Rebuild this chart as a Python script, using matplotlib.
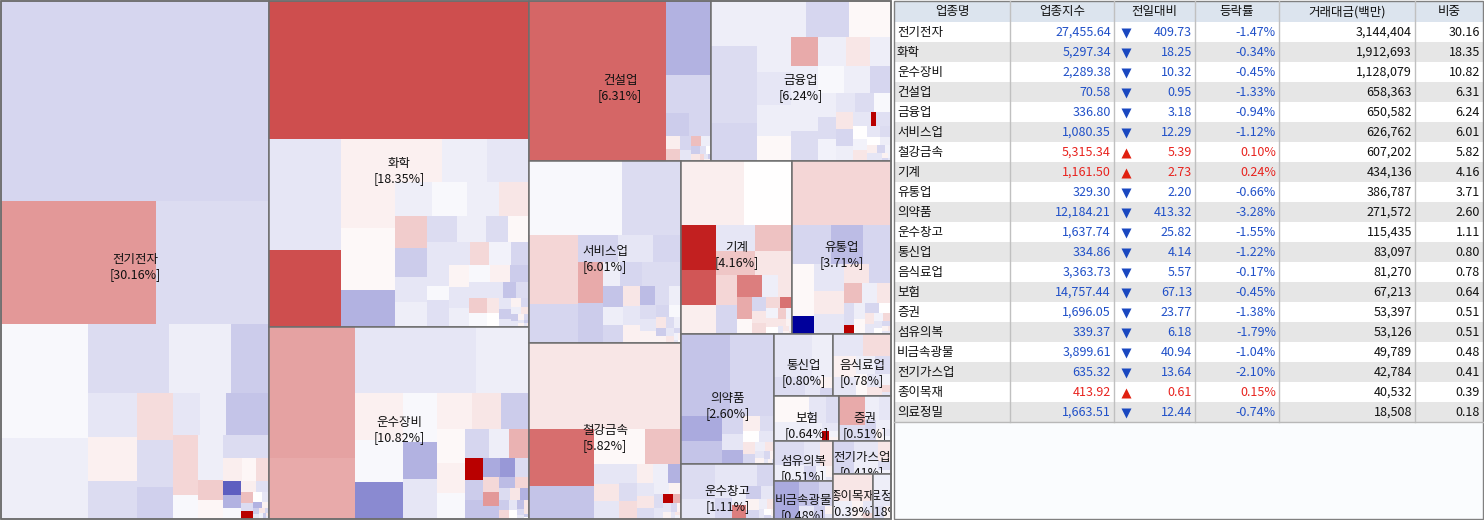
import matplotlib
matplotlib.use('Agg')
import matplotlib.pyplot as plt
from matplotlib.patches import Rectangle
from matplotlib.colors import LinearSegmentedColormap, Normalize
from matplotlib.transforms import Bbox

plt.rcParams['font.family'] = ['Noto Sans CJK KR', 'DejaVu Sans']

# ---------------- sector table data ----------------
names = ['전기전자', '화학', '운수장비', '건설업', '금융업', '서비스업', '철강금속', '기계', '유통업', '의약품',
         '운수창고', '통신업', '음식료업', '보험', '증권', '섬유의복', '비금속광물', '전기가스업', '종이목재', '의료정밀']
index_vals = [27455.64, 5297.34, 2289.38, 70.58, 336.80, 1080.35, 5315.34, 1161.50, 329.30, 12184.21,
              1637.74, 334.86, 3363.73, 14757.44, 1696.05, 339.37, 3899.61, 635.32, 413.92, 1663.51]
day_change = [-409.73, -18.25, -10.32, -0.95, -3.18, -12.29, 5.39, 2.73, -2.20, -413.32,
              -25.82, -4.14, -5.57, -67.13, -23.77, -6.18, -40.94, -13.64, 0.61, -12.44]
rate = [-1.47, -0.34, -0.45, -1.33, -0.94, -1.12, 0.10, 0.24, -0.66, -3.28,
        -1.55, -1.22, -0.17, -0.45, -1.38, -1.79, -1.04, -2.10, 0.15, -0.74]
volume = [3144404, 1912693, 1128079, 658363, 650582, 626762, 607202, 434136, 386787, 271572,
          115435, 83097, 81270, 67213, 53397, 53126, 49789, 42784, 40532, 18508]
weight = [30.16, 18.35, 10.82, 6.31, 6.24, 6.01, 5.82, 4.16, 3.71, 2.60,
          1.11, 0.80, 0.78, 0.64, 0.51, 0.51, 0.48, 0.41, 0.39, 0.18]
headers = ['업종명', '업종지수', '전일대비', '등락률', '거래대금(백만)', '비중']

# ---------------- stock cells per sector (relative size, change %) ----------------
elec_size = [52400, 18573, 13653, 9775, 6885, 5508, 4158, 2640, 2100, 2080, 1833, 1638, 1638, 1120, 1090, 1060,
             1794, 858, 621, 600, 560, 540, 520, 500, 480, 450, 420, 300, 300, 260, 220, 200, 180, 150, 120, 100,
             90, 80, 70, 60, 50, 40, 30, 30, 20, 20, 15, 10, 10]
elec_chg = [-1.6, 4.0, -1.4, -0.3, -0.7, -1.4, -0.7, -2.0, -1.0, 0.6, -1.4, 1.4, -1.4, -1.8, -1.0, -0.7,
            -2.3, 1.6, 1.6, -0.3, -0.7, -1.4, -1.4, -0.7, 2.0, 0.35, 0.7, 0.35, 1.4, -6.3, -3.0, -0.3, 0.7, -1.2,
            2.5, -1.4, 10, 0, -1.0, -3.0, 0.5, -2.0, -1.0, 1.0, -1.5, -0.5, -2.0, 1.0, -1.0]

chem_size = [36000, 7920, 5544, 4752, 3348, 1998, 2021, 1935, 1806, 1258, 1190, 1088, 1020, 1000, 950, 800,
             780, 754, 728, 572,
             529, 989, 300, 600, 480, 460, 500, 420, 450, 400, 380, 360, 340, 320, 300, 280, 260, 240, 220, 200,
             180, 160, 140, 120, 100, 90, 80, 70, 60, 50, 40, 30, 30, 20, 20, 15, 10, 10]
chem_chg = [6.9, -1.0, 6.9, 0.6, 0.3, -3.0, 0.6, -0.7, -1.0, -0.7, -0.3, -0.7, 1.0, 2.0, -2.0, -1.0,
            -0.7, -1.4, -0.7, -1.4,
            0.3, -1.0, -0.3, -1.2, -1.0, 1.5, -0.5, -1.6, 0.4, -1.0, -0.7, -0.3, 0.6, -2.0, -1.0, 2.0, -0.3,
            -1.0, -2.3, -1.4, 1.0, 0, -1.0, -2.0, -1.0, 0.5, -1.5, -0.7, 1.0, -2.0, -1.0, 0.5, -1.5, -1.0,
            0.5, -2.0, -1.0, 1.0]

trans_size = [11220, 5185, 8052, 3498, 2256, 2064, 1776, 1666, 1292, 1360, 1260, 1080, 1008, 952, 868, 728,
              696, 609, 580,
              396, 360, 350, 300, 280, 260, 240, 220, 200, 180, 160, 140, 120, 110, 100, 90, 80, 70, 60, 50,
              40, 30, 20, 15, 10]
trans_chg = [3.6, 3.3, -1.0, -0.7, 0.6, -0.3, -4.6, -0.3, -3.0, -1.0, 0.6, 1.0, -2.0, 0.3, 0.6, -0.3,
             -1.6, -0.7, 3.0,
             10, -2.0, -2.3, -3.3, -4.0, -1.4, 1.5, 4.0, -2.3, -2.6, 1.6, -1.4, 1.0, -3.0, -2.0, 1.5, -1.0,
             0, -2.5, 1.0, -1.5, -1.0, 1.0, -2.0, 0]

cons_size = [21783, 3330, 1710, 529, 506, 180, 160, 140, 120, 100, 90, 80, 60, 50, 40, 30, 20, 15, 10]
cons_chg = [6.0, -3.0, -1.6, -2.0, -1.6, 0.7, 2.0, -1.6, -1.0, 2.5, -0.7, -2.0, 1.0, -1.2, 0, 1.5, -1.0, -2.0, 0.5]

fin_size = [2065, 3500, 1700, 1700, 1530, 1470, 1170, 1110, 1020, 840, 780, 810, 660, 616, 814,
            900, 800, 700, 700, 560, 420, 400, 380, 360, 340, 320, 300, 280, 260, 240, 80, 200, 180, 160,
            150, 140, 120, 100, 90, 80, 70, 60, 50, 40, 30, 20, 15, 10]
fin_chg = [-0.7, -1.4, -1.6, -0.7, -1.6, 0.3, -0.7, -1.0, -0.7, 0.3, 3.3, -0.7, 1.0, -0.7, -0.7,
           -0.7, -1.4, -0.3, -0.7, -1.6, -0.7, -1.4, -0.5, -1.0, -1.4, -0.3, 1.0, -1.6, -0.7, -1.0, 10,
           -1.2, 0, -0.5, 1.0, -1.0, -1.4, 0, -0.7, 0.7, -1.0, -1.6, -0.5, -1.0, 0.5, -1.5, -0.5, -1.0]

serv_size = [6975, 4425, 3400, 1900, 1120, 952, 784, 1040,
             1026, 418, 560, 500, 460, 420, 380, 360, 340, 320, 300, 280, 260, 240, 220, 200, 180, 160, 140,
             120, 100, 90, 80, 70, 60, 50, 40, 30, 20, 15, 10]
serv_chg = [-0.3, -1.4, 1.6, -1.6, -1.7, -1.0, -1.6, 3.3,
            -2.0, -0.7, -1.6, -1.4, -1.4, -2.3, -0.7, -1.6, 1.0, -1.0, 0.6, -2.6, -1.4, -0.7, -1.4, -1.0,
            0.5, -1.6, -0.3, 1.0, -1.4, -0.7, -2.0, 0.5, -1.0, 1.0, -1.5, -0.5, 0.5, -1.0, 0]

steel_size = [13072, 3712, 2112, 1734, 1258, 504, 432, 432, 360, 324, 342,
              300, 280, 260, 220, 200, 180, 160, 140, 120, 100, 90, 80, 70, 60, 50, 40, 30, 20, 15, 10]
steel_chg = [1.0, 5.7, -2.3, 0.3, 2.4, -1.0, 1.0, -1.0, -1.0, -1.4, 1.4,
             0.7, -0.7, -3.0, -1.0, 1.0, -1.4, -0.7, 0.5, -1.4, -1.0, 10, 3.0, -1.0, 0.5, -1.5, 0.5, -1.0,
             1.0, -0.5, 0.5]

mach_size = [4100, 3100, 1610, 1260, 1050, 1026, 999, 950, 925, 651, 609, 561, 357, 330, 315,
             220, 200, 180, 160, 150, 140, 120, 100, 90, 80, 70, 60, 50, 40, 30, 20, 15, 10]
mach_chg = [0.7, 0, 8.7, 6.6, 0.7, -1.0, 2.35, 2.2, 1.0, 1.6, -1.6, 5.0, -0.7, 1.0, 3.3,
            0.3, -1.6, 1.0, 1.4, 1.5, 5.5, -0.5, 1.0, 0, 2.0, -0.5, 1.0, 0.5, -1.0, 1.0, 0.5, -0.5, 1.0]

dist_size = [6336, 1521, 1248, 1092, 1122, 396,
             820, 700, 600, 500, 420, 360, 300, 280, 240, 90, 180, 160, 140, 120, 100, 90, 80, 70, 60, 50,
             40, 30, 20, 15, 10]
dist_chg = [1.6, -1.6, -2.6, -1.6, 0.3, -10,
            -1.0, 0.8, -1.0, 1.0, -1.6, 2.5, -0.7, 1.0, -1.4, 10, -0.7, 0.3, -1.6, 0, 1.0, -1.0, -0.5, 1.5,
            -1.0, 0, -1.5, 0.5, -1.0, 1.0, -1.0]

pharm_size = [3840, 3520, 988, 874, 360, 320, 280, 240, 200, 180, 160, 140, 120, 100, 80, 60, 50, 40, 30, 20, 15, 10]
pharm_chg = [-2.3, -1.6, -3.3, -2.3, -1.6, -1.0, -3.0, 0.7, -1.4, 0, -1.0, 1.0, -1.6, -0.7, 1.0, -1.0, 0.5,
             -1.5, 0.5, -1.0, 0.5, -1.0]

wh_size = [1296, 720, 665, 399, 600, 420, 300, 210, 200, 180, 150, 120, 100, 80, 60, 40, 30, 20, 10]
wh_chg = [-1.4, -1.0, -1.0, -1.6, -1.0, -1.6, -0.7, 5.0, -2.0, -1.0, 0.5, -1.6, -0.7, 1.0, -1.0, 0, -1.5, 0.5, -1.0]

tel_size = [1600, 900, 600, 300, 150, 100]
tel_chg = [-1.0, -0.7, -1.4, -1.0, 0.5, -1.6]
food_size = [700, 650, 500, 450, 350, 300, 250, 200, 150, 100, 60, 40]
food_chg = [-1.0, 1.4, 0.6, -1.0, -0.7, -1.4, 0.3, -1.0, 1.0, -0.5, 1.5, -1.0]
ins_size = [900, 700, 450, 350, 250, 150, 70, 60, 40]
ins_chg = [0.3, -0.7, -1.0, -1.4, -0.7, -1.0, 10, -0.5, 0.5]
sec_size = [768, 450, 350, 300, 250, 150, 100, 60, 40]
sec_chg = [3.3, -1.4, -0.7, -1.0, -1.6, -0.7, 0.5, -1.0, -0.5]
tex_size = [700, 500, 400, 300, 200, 150, 80, 30]
tex_chg = [-1.4, -0.7, -1.0, 1.0, -1.6, -0.5, 0.5, -1.0]
nonmet_size = [1000, 500, 350, 200, 150, 60, 40]
nonmet_chg = [-3.3, -2.3, -1.6, -1.0, -2.0, 0.5, -1.0]
util_size = [700, 450, 350, 250, 120, 50]
util_chg = [-1.6, -1.0, -0.7, 1.0, -1.4, -0.5]
paper_size = [1100, 350, 200, 120, 60]
paper_chg = [1.0, -0.7, 0.5, -1.0, 1.5]
med_size = [400, 300, 180, 100]
med_chg = [-0.7, -1.0, -1.4, 0.5]

cells = [(elec_size, elec_chg), (chem_size, chem_chg), (trans_size, trans_chg), (cons_size, cons_chg),
         (fin_size, fin_chg), (serv_size, serv_chg), (steel_size, steel_chg), (mach_size, mach_chg),
         (dist_size, dist_chg), (pharm_size, pharm_chg), (wh_size, wh_chg), (tel_size, tel_chg),
         (food_size, food_chg), (ins_size, ins_chg), (sec_size, sec_chg), (tex_size, tex_chg),
         (nonmet_size, nonmet_chg), (util_size, util_chg), (paper_size, paper_chg), (med_size, med_chg)]


# ---------------- squarified treemap ----------------
def worst(row, dx, dy):
    s = sum(row)
    if dx >= dy:
        w = s / dy
        return max(max(w / (r / w), (r / w) / w) for r in row)
    h = s / dx
    return max(max(h / (r / h), (r / h) / h) for r in row)


def squarify(vals, x, y, dx, dy):
    if not vals:
        return []
    if len(vals) == 1:
        return [(x, y, dx, dy)]
    i = 1
    while i < len(vals) and worst(vals[:i], dx, dy) >= worst(vals[:i + 1], dx, dy):
        i += 1
    cur, rest = vals[:i], vals[i:]
    s = sum(cur)
    rects = []
    if dx >= dy:
        w = s / dy
        yy = y
        for r in cur:
            rects.append((x, yy, w, r / w))
            yy += r / w
        return rects + squarify(rest, x + w, y, dx - w, dy)
    h = s / dx
    xx = x
    for r in cur:
        rects.append((xx, y, r / h, h))
        xx += r / h
    return rects + squarify(rest, x, y + h, dx, dy - h)


def layout(sizes, x, y, dx, dy):
    tot = float(sum(sizes))
    return squarify([s * dx * dy / tot for s in sizes], x, y, dx, dy)


cmap = LinearSegmentedColormap.from_list('updown', [(0, '#00009B'), (0.5, '#FFFFFF'), (1, '#B90000')])
norm = Normalize(-10, 10)

W, H = 1484, 520
fig = plt.figure(figsize=(W / 100, H / 100), dpi=100)
ax = fig.add_axes([0, 0, 1, 1])
ax.set_xlim(0, W)
ax.set_ylim(H, 0)
ax.axis('off')


def disp_box(x, y, w, h):
    (x0, y0), (x1, y1) = ax.transData.transform([(x, y), (x + w, y + h)])
    return Bbox.from_extents(min(x0, x1), min(y0, y1), max(x0, x1), max(y0, y1))


TX, TY, TW, TH = 1, 1, 890, 518
sector_rects = layout(weight, TX, TY, TW, TH)
for (sx, sy, sw, sh), (sz, ch), nm, wt in zip(sector_rects, cells, names, weight):
    for (cx, cy, cw, chh), c in zip(layout(sz, sx, sy, sw, sh), ch):
        ax.add_patch(Rectangle((cx, cy), cw, chh, facecolor=cmap(norm(c)), edgecolor='none',
                               linewidth=0, antialiased=False))
    ax.add_patch(Rectangle((sx, sy), sw, sh, fill=False, edgecolor='#6E6E6E', linewidth=1.1))
    box = disp_box(sx + 1, sy + 1, sw - 2, sh - 2)
    mx, my = sx + sw / 2, sy + sh / 2
    for txt, dy in ((nm, 0), ('[%.2f%%]' % wt, 15)):
        t = ax.text(mx, my + dy, txt, ha='center', va='center', fontsize=9, color='#111111')
        t.set_clip_box(box)
        t.set_clip_on(True)
ax.add_patch(Rectangle((TX, TY), TW, TH, fill=False, edgecolor='#6E6E6E', linewidth=1.1))

# ---------------- table ----------------
col_x = [894, 1010, 1114, 1195, 1279, 1415, 1483]
top, head_h, row_h = 1, 21, 20
n = len(names)
body_top = top + head_h
body_bot = body_top + n * row_h
ax.add_patch(Rectangle((col_x[0], top), col_x[-1] - col_x[0], head_h, facecolor='#DCE4EE',
                       edgecolor='none', antialiased=False))
for i in range(n):
    y0 = body_top + i * row_h
    ax.add_patch(Rectangle((col_x[0], y0), col_x[-1] - col_x[0], row_h,
                           facecolor='#FFFFFF' if i % 2 == 0 else '#E6E6E6', edgecolor='none',
                           antialiased=False))
ax.add_patch(Rectangle((col_x[0], body_bot), col_x[-1] - col_x[0], 519 - body_bot, facecolor='#FAFCFE',
                       edgecolor='none', antialiased=False))
for xc in col_x[1:-1]:
    ax.plot([xc, xc], [top, body_bot], color='#C0C0C0', lw=1.0)
ax.plot([col_x[0], col_x[-1]], [body_bot, body_bot], color='#B8B8B8', lw=1.0)
ax.add_patch(Rectangle((col_x[0], top), col_x[-1] - col_x[0], 519 - top, fill=False,
                       edgecolor='#808080', linewidth=1.0))

fs = 9
for j, hd in enumerate(headers):
    ax.text((col_x[j] + col_x[j + 1]) / 2, top + head_h / 2 + 0.5, hd, ha='center', va='center',
            fontsize=fs, color='#111111')

BLUE, RED = '#2050C8', '#E8231E'
for i in range(n):
    yc = body_top + i * row_h + row_h / 2 + 0.5
    up = day_change[i] > 0
    col = RED if up else BLUE
    ax.text(897, yc, names[i], ha='left', va='center', fontsize=fs, color='#111111')
    ax.text(1111, yc, '{:,.2f}'.format(index_vals[i]), ha='right', va='center', fontsize=fs, color=col)
    ax.plot([1126], [yc], marker='^' if up else 'v', ms=6.5, color='#E02010' if up else '#1A48C0',
            mec='none')
    ax.text(1192, yc, '{:,.2f}'.format(abs(day_change[i])), ha='right', va='center', fontsize=fs, color=col)
    ax.text(1276, yc, '{:.2f}%'.format(rate[i]), ha='right', va='center', fontsize=fs, color=col)
    ax.text(1412, yc, '{:,}'.format(volume[i]), ha='right', va='center', fontsize=fs, color='#111111')
    ax.text(1480, yc, '{:.2f}'.format(weight[i]), ha='right', va='center', fontsize=fs, color='#111111')

fig.savefig('out.png', dpi=100, facecolor='white')
